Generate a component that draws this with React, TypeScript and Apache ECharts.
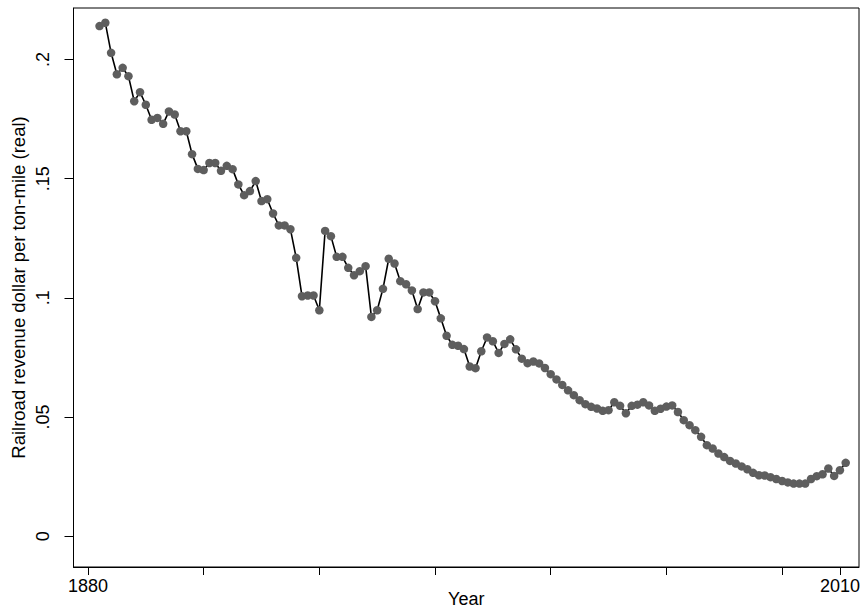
import React, { useEffect, useRef } from "react";
import * as echarts from "echarts";

const years = [
  1882, 1883, 1884, 1885, 1886, 1887, 1888, 1889, 1890, 1891,
  1892, 1893, 1894, 1895, 1896, 1897, 1898, 1899, 1900, 1901,
  1902, 1903, 1904, 1905, 1906, 1907, 1908, 1909, 1910, 1911,
  1912, 1913, 1914, 1915, 1916, 1917, 1918, 1919, 1920, 1921,
  1922, 1923, 1924, 1925, 1926, 1927, 1928, 1929, 1930, 1931,
  1932, 1933, 1934, 1935, 1936, 1937, 1938, 1939, 1940, 1941,
  1942, 1943, 1944, 1945, 1946, 1947, 1948, 1949, 1950, 1951,
  1952, 1953, 1954, 1955, 1956, 1957, 1958, 1959, 1960, 1961,
  1962, 1963, 1964, 1965, 1966, 1967, 1968, 1969, 1970, 1971,
  1972, 1973, 1974, 1975, 1976, 1977, 1978, 1979, 1980, 1981,
  1982, 1983, 1984, 1985, 1986, 1987, 1988, 1989, 1990, 1991,
  1992, 1993, 1994, 1995, 1996, 1997, 1998, 1999, 2000, 2001,
  2002, 2003, 2004, 2005, 2006, 2007, 2008, 2009, 2010, 2011,
];

const revenuePerTonMile = [
  0.2140, 0.2154, 0.2028, 0.1938, 0.1965, 0.1930, 0.1825, 0.1863, 0.1810, 0.1747,
  0.1755, 0.1730, 0.1782, 0.1769, 0.1699, 0.1699, 0.1603, 0.1541, 0.1536, 0.1566,
  0.1566, 0.1533, 0.1554, 0.1540, 0.1476, 0.1431, 0.1448, 0.1490, 0.1406, 0.1414,
  0.1354, 0.1304, 0.1304, 0.1288, 0.1168, 0.1007, 0.1010, 0.1010, 0.0948, 0.1281,
  0.1259, 0.1172, 0.1172, 0.1126, 0.1095, 0.1112, 0.1133, 0.0920, 0.0948, 0.1038,
  0.1164, 0.1144, 0.1070, 0.1057, 0.1031, 0.0953, 0.1023, 0.1023, 0.0986, 0.0914,
  0.0841, 0.0803, 0.0799, 0.0785, 0.0712, 0.0705, 0.0776, 0.0834, 0.0818, 0.0769,
  0.0807, 0.0826, 0.0784, 0.0745, 0.0726, 0.0733, 0.0725, 0.0706, 0.0680, 0.0658,
  0.0635, 0.0612, 0.0592, 0.0571, 0.0554, 0.0543, 0.0536, 0.0526, 0.0529, 0.0562,
  0.0547, 0.0516, 0.0547, 0.0552, 0.0562, 0.0549, 0.0526, 0.0535, 0.0544, 0.0549,
  0.0521, 0.0487, 0.0466, 0.0445, 0.0417, 0.0382, 0.0368, 0.0347, 0.0332, 0.0316,
  0.0305, 0.0293, 0.0281, 0.0266, 0.0256, 0.0255, 0.0248, 0.0240, 0.0232, 0.0226,
  0.0221, 0.0221, 0.0221, 0.0240, 0.0252, 0.0260, 0.0284, 0.0253, 0.0277, 0.0308,
];

const xTicks = [1880, 1900, 1920, 1940, 1960, 1980, 2000, 2010];
const xTickLabels = [1880, 2010];
const yTicks = [0, 0.05, 0.1, 0.15, 0.2];

const FONT = "'Liberation Sans', Arial, Helvetica, sans-serif";

export default function App() {
  const ref = useRef<HTMLDivElement>(null);
  useEffect(() => {
    if (!ref.current) return;
    const chart = echarts.init(ref.current, undefined, { renderer: "svg" });
    const data = years.map((y, i) => [y, revenuePerTonMile[i]]);
    chart.setOption({
      animation: false,
      backgroundColor: "#ffffff",
      textStyle: { fontFamily: FONT },
      grid: {
        left: 73.5,
        right: 9,
        top: 8,
        bottom: 45,
        containLabel: false,
        outerBoundsMode: "none",
        show: true,
        borderColor: "#000000",
        borderWidth: 1,
        backgroundColor: "transparent",
      },
      xAxis: {
        type: "value",
        min: 1877.5,
        max: 2013.3,
        name: "Year",
        nameLocation: "middle",
        nameGap: 23,
        nameMoveOverlap: false,
        nameTextStyle: { color: "#000", fontSize: 18, fontFamily: FONT },
        axisLine: { show: true, onZero: false, lineStyle: { color: "#000", width: 1 } },
        axisTick: {
          show: true,
          inside: false,
          length: 8,
          customValues: xTicks,
          lineStyle: { color: "#000", width: 1 },
        },
        axisLabel: {
          show: true,
          customValues: xTickLabels,
          margin: 10,
          color: "#000",
          fontSize: 18,
          fontFamily: FONT,
          formatter: (v: number) => String(v),
        },
        splitLine: { show: false },
      },
      yAxis: {
        type: "value",
        min: -0.0129,
        max: 0.2216,
        name: "Railroad revenue dollar per ton-mile (real)",
        nameLocation: "middle",
        nameRotate: 90,
        nameGap: 46,
        nameMoveOverlap: false,
        nameTextStyle: { color: "#000", fontSize: 18.5, fontFamily: FONT },
        axisLine: { show: true, onZero: false, lineStyle: { color: "#000", width: 1 } },
        axisTick: {
          show: true,
          inside: false,
          length: 9,
          customValues: yTicks,
          lineStyle: { color: "#000", width: 1 },
        },
        axisLabel: {
          show: true,
          customValues: yTicks,
          rotate: 90,
          margin: 22,
          color: "#000",
          fontSize: 18,
          fontFamily: FONT,
          formatter: (v: number) => (v === 0 ? "0" : String(v).replace(/^0/, "")),
        },
        splitLine: { show: false },
      },
      series: [
        {
          type: "line",
          data,
          symbol: "circle",
          symbolSize: 8.5,
          showSymbol: true,
          itemStyle: { color: "#5e5e5e", borderWidth: 0 },
          lineStyle: { color: "#000000", width: 1.6 },
          emphasis: { disabled: true },
          z: 3,
        },
      ],
    });
    return () => chart.dispose();
  }, []);
  return (
    <div
      ref={ref}
      style={{ position: "fixed", left: 0, top: 0, width: 868, height: 612, background: "#fff" }}
    />
  );
}
